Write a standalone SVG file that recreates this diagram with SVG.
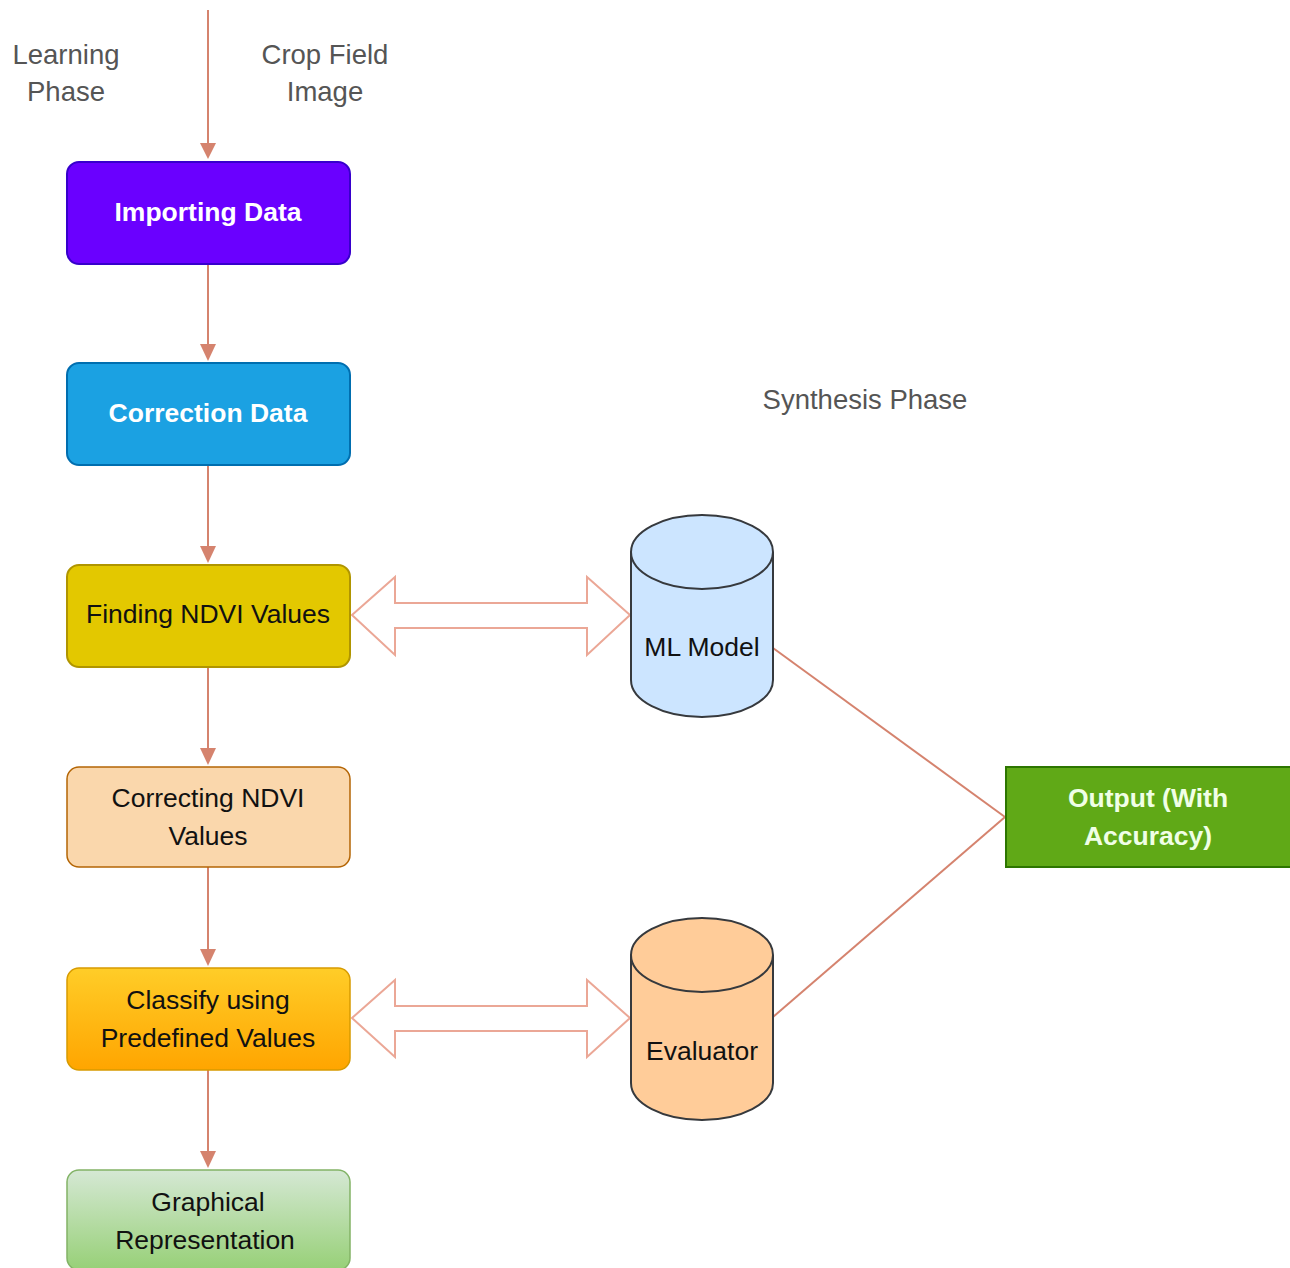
<svg xmlns="http://www.w3.org/2000/svg" width="1290" height="1268" viewBox="0 0 1290 1268">
<style>
.lbl{font-family:"Liberation Sans",Arial,sans-serif;font-size:26.5px;text-anchor:middle;fill:#111}
.free{font-family:"Liberation Sans",Arial,sans-serif;font-size:27.5px;text-anchor:middle;fill:#555}
.b{font-weight:bold;fill:#fff}
.conn{stroke:#d5836e;stroke-width:2;fill:none}
.head{fill:#d5836e}
.dbl{fill:#fff;stroke:#eba796;stroke-width:2}
</style>
<defs>
<linearGradient id="gOr" x1="0" y1="0" x2="0" y2="1"><stop offset="0" stop-color="#ffcd28"/><stop offset="1" stop-color="#ffa500"/></linearGradient>
<linearGradient id="gGr" x1="0" y1="0" x2="0" y2="1"><stop offset="0" stop-color="#d5e8d4"/><stop offset="1" stop-color="#97d077"/></linearGradient>
</defs>

<g id="connectors">
<line class="conn" x1="208" y1="10" x2="208" y2="150"/>
<line class="conn" x1="208" y1="264" x2="208" y2="350"/>
<line class="conn" x1="208" y1="465" x2="208" y2="552"/>
<line class="conn" x1="208" y1="667" x2="208" y2="754"/>
<line class="conn" x1="208" y1="867" x2="208" y2="955"/>
<line class="conn" x1="208" y1="1070" x2="208" y2="1157"/>
<path class="head" d="M200,143 L208,159 L216,143 Z"/>
<path class="head" d="M200,344 L208,361 L216,344 Z"/>
<path class="head" d="M200,546 L208,563 L216,546 Z"/>
<path class="head" d="M200,748 L208,765 L216,748 Z"/>
<path class="head" d="M200,949 L208,966 L216,949 Z"/>
<path class="head" d="M200,1151 L208,1168 L216,1151 Z"/>
<polygon class="dbl" points="352,615 395,577 395,603 587,603 587,577 630,615 587,655 587,628 395,628 395,655"/>
<polygon class="dbl" points="352,1018 395,980 395,1006 587,1006 587,980 630,1018 587,1057 587,1031 395,1031 395,1057"/>
<line class="conn" x1="773" y1="648" x2="1005" y2="817"/>
<line class="conn" x1="773" y1="1017" x2="1005" y2="817"/>
</g>

<g id="label-learning"><text class="free" x="66" y="64">Learning</text><text class="free" x="66" y="101">Phase</text></g>
<g id="label-crop"><text class="free" x="325" y="64">Crop Field</text><text class="free" x="325" y="101">Image</text></g>
<g id="label-synthesis"><text class="free" x="865" y="409">Synthesis Phase</text></g>

<g id="importing">
<rect x="67" y="162" width="283" height="102" rx="12" fill="#6a00ff" stroke="#3700cc" stroke-width="2"/>
<text class="lbl b" x="208" y="221">Importing Data</text>
</g>
<g id="correction">
<rect x="67" y="363" width="283" height="102" rx="12" fill="#1ba1e2" stroke="#006eaf" stroke-width="2"/>
<text class="lbl b" x="208" y="422">Correction Data</text>
</g>
<g id="finding">
<rect x="67" y="565" width="283" height="102" rx="12" fill="#e3c800" stroke="#b09500" stroke-width="2"/>
<text class="lbl" x="208" y="623">Finding NDVI Values</text>
</g>
<g id="correcting">
<rect x="67" y="767" width="283" height="100" rx="12" fill="#fad7ac" stroke="#b46504" stroke-width="1.5"/>
<text class="lbl" x="208" y="807">Correcting NDVI</text>
<text class="lbl" x="208" y="845">Values</text>
</g>
<g id="classify">
<rect x="67" y="968" width="283" height="102" rx="12" fill="url(#gOr)" stroke="#d79b00" stroke-width="1.5"/>
<text class="lbl" x="208" y="1009">Classify using</text>
<text class="lbl" x="208" y="1047">Predefined Values</text>
</g>
<g id="graphical">
<rect x="67" y="1170" width="283" height="100" rx="12" fill="url(#gGr)" stroke="#82b366" stroke-width="1.5"/>
<text class="lbl" x="208" y="1211">Graphical</text>
<text class="lbl" x="205" y="1249">Representation</text>
</g>

<g id="mlmodel">
<path d="M631,552 A71,37 0 0 1 773,552 V680 A71,37 0 0 1 631,680 Z" fill="#cce5ff" stroke="#36393d" stroke-width="2"/>
<path d="M631,552 A71,37 0 0 0 773,552" fill="none" stroke="#36393d" stroke-width="2"/>
<text class="lbl" x="702" y="656" fill="#222">ML Model</text>
</g>
<g id="evaluator">
<path d="M631,955 A71,37 0 0 1 773,955 V1083 A71,37 0 0 1 631,1083 Z" fill="#ffcc99" stroke="#36393d" stroke-width="2"/>
<path d="M631,955 A71,37 0 0 0 773,955" fill="none" stroke="#36393d" stroke-width="2"/>
<text class="lbl" x="702" y="1060">Evaluator</text>
</g>
<g id="output">
<rect x="1006" y="767" width="290" height="100" fill="#60a917" stroke="#2d7600" stroke-width="2"/>
<text class="lbl b" x="1148" y="807" style="fill:#f0ffe6">Output (With</text>
<text class="lbl b" x="1148" y="845" style="fill:#f0ffe6">Accuracy)</text>
</g>
</svg>
